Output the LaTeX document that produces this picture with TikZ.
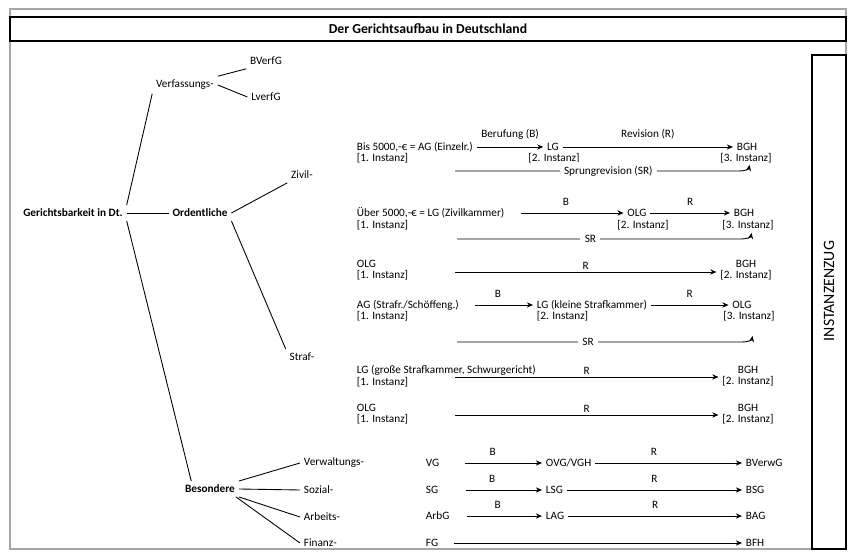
\documentclass[tikz,border=0pt]{standalone}
\usepackage{fontspec}
\setmainfont{Carlito}
\usetikzlibrary{arrows.meta,calc}
\newcommand\gsize{\fontsize{6.4}{6.6}\selectfont}

\begin{document}
\begin{tikzpicture}[x=0.02cm,y=-0.02cm,>={Stealth[length=3.5pt,width=3pt]},line width=0.5pt,
 tr/.style={inner sep=2pt,font=\gsize},
 trb/.style={inner sep=2pt,font=\gsize\bfseries},
 ct/.style={inner sep=2pt,font=\gsize,align=left},
 ar/.style={->,line width=0.5pt},
 al/.style={above=3pt,inner sep=1pt,font=\gsize},
 al2/.style={above=0pt,inner sep=1pt,font=\gsize},
 srl/.style={fill=white,inner sep=2.5pt,font=\gsize}]
\useasboundingbox (0,0) rectangle (850,553);
\draw[gray!70,line width=0.6pt] (10,9) rectangle (846,549);
\draw[line width=0.7pt] (10,17) rectangle (846,41);
\node[font=\fontsize{7.8}{9}\selectfont\bfseries] (title) at (428,29) {Der Gerichtsaufbau in Deutschland};
\draw[line width=0.6pt] (812,55) rectangle (846,549);
\node[rotate=90,font=\fontsize{9}{10}\selectfont] (inst) at (829,291) {INSTANZENZUG};

\node[trb] (ger) at (73,213) {Gerichtsbarkeit in Dt.};
\node[trb] (ord) at (200,213) {Ordentliche};
\node[tr] (verf) at (185,85) {Verfassungs-};
\node[tr] (bverfg) at (266,61) {BVerfG};
\node[tr] (lverfg) at (266,97) {LverfG};
\node[tr] (zivil) at (302,175) {Zivil-};
\node[tr] (straf) at (302,357) {Straf-};
\node[trb] (bes) at (210,489) {Besondere};
\node[tr,anchor=west] (verw) at (300,463) {Verwaltungs-};
\node[tr,anchor=west] (soz) at (300,490) {Sozial-};
\node[tr,anchor=west] (arb) at (300,517) {Arbeits-};
\node[tr,anchor=west] (fin) at (300,543) {Finanz-};
\draw (ger.north east) -- (verf.south west);
\draw (ger) -- (ord);
\draw (ger.south east) -- ($(bes.north west)!.35!(bes.north)$);
\draw (verf.north east) -- (bverfg.south west);
\draw (verf.east) -- (lverfg.west);
\draw (ord.east) -- (zivil.south west);
\draw (ord.south east) -- (straf.north west);
\draw (bes.north east) -- (verw.west);
\draw (bes.east) -- (soz.west);
\draw (bes.south east) -- (arb.west);
\draw ($(bes.south east)!.1!(bes.south)$) -- (fin.west);

\node[ct,anchor=west] (ag1) at (353,147) {Bis 5000,-€ = AG (Einzelr.)};
\node[ct,anchor=west] (ag1i) at (353,158) {[1. Instanz]};
\node[ct] (lg1) at (553,147) {LG};
\node[ct] (lg1i) at (554,158) {[2. Instanz]};
\node[ct] (bgh1) at (747,147) {BGH};
\node[ct] (bgh1i) at (746,158) {[3. Instanz]};
\draw[ar] (ag1) -- node[al]{Berufung (B)} (lg1);
\draw[ar] (lg1) -- node[al]{Revision (R)} (bgh1);
\coordinate (sr1) at (455,171);
\draw[ar] (sr1) -- node[pos=.54,srl]{Sprungrevision (SR)} ($(sr1 -| bgh1i)+(-4pt,0)$)
 to[out=0,in=-100] ($(sr1 -| bgh1i)+(2pt,3.5pt)$);

\node[ct,anchor=west] (lg2) at (353,213) {Über 5000,-€ = LG (Zivilkammer)};
\node[ct,anchor=west] (lg2i) at (353,225) {[1. Instanz]};
\node[ct] (olg2) at (637,213) {OLG};
\node[ct] (olg2i) at (643,225) {[2. Instanz]};
\node[ct] (bgh2) at (744,213) {BGH};
\node[ct] (bgh2i) at (748,225) {[3. Instanz]};
\draw[ar,shorten <=7pt] (lg2) -- node[al]{B} (olg2);
\draw[ar] (olg2) -- node[al]{R} (bgh2);
\coordinate (sr2) at (457,239);
\draw[ar] (sr2) -- node[pos=.47,srl]{SR} ($(sr2 -| bgh2i)+(-4pt,0)$)
 to[out=0,in=-100] ($(sr2 -| bgh2i)+(2pt,3.5pt)$);

\node[ct,anchor=west] (olg3) at (353,270) {OLG\\{}[1. Instanz]};
\node[ct,align=center] (bgh3) at (746,270) {BGH\\{}[2. Instanz]};
\coordinate (r3) at (455,272);
\draw[ar] (r3) -- node[al2]{R} (r3 -| bgh3.west);

\node[ct,anchor=west] (ag4) at (353,305) {AG (Strafr./Schöffeng.)};
\node[ct,anchor=west] (ag4i) at (353,316) {[1. Instanz]};
\node[ct,anchor=west] (lg4) at (533,305) {LG (kleine Strafkammer)};
\node[ct,anchor=west] (lg4i) at (533,316) {[2. Instanz]};
\node[ct] (olg4) at (742,305) {OLG};
\node[ct] (olg4i) at (749,316) {[3. Instanz]};
\draw[ar,shorten <=7pt] (ag4) -- node[al]{B} (lg4);
\draw[ar] (lg4) -- node[al]{R} (olg4);
\coordinate (sr4) at (457,342);
\draw[ar] (sr4) -- node[pos=.46,srl]{SR} ($(sr4 -| olg4i)+(-4pt,0)$)
 to[out=0,in=-100] ($(sr4 -| olg4i)+(2pt,3.5pt)$);

\node[ct,anchor=west] (lg5) at (353,376) {LG (große Strafkammer, Schwurgericht)\\{}[1. Instanz]};
\node[ct,align=center] (bgh5) at (748,376) {BGH\\{}[2. Instanz]};
\coordinate (r5) at (455,377);
\draw[ar] (r5) -- node[al2]{R} (r5 -| bgh5.west);

\node[ct,anchor=west] (olg6) at (353,414) {OLG\\{}[1. Instanz]};
\node[ct,align=center] (bgh6) at (748,414) {BGH\\{}[2. Instanz]};
\coordinate (r6) at (455,415);
\draw[ar] (r6) -- node[al2]{R} (r6 -| bgh6.west);

\node[ct,anchor=west] (vg) at (422,463) {VG};
\node[ct,anchor=west] (ovg) at (542,463) {OVG/VGH};
\node[ct,anchor=west] (bverwg) at (742,463) {BVerwG};
\node[ct,anchor=west] (sg) at (422,490) {SG};
\node[ct,anchor=west] (lsg) at (542,490) {LSG};
\node[ct,anchor=west] (bsg) at (742,490) {BSG};
\node[ct,anchor=west] (arbg) at (422,516) {ArbG};
\node[ct,anchor=west] (lag) at (542,516) {LAG};
\node[ct,anchor=west] (bag) at (742,516) {BAG};
\node[ct,anchor=west] (fg) at (422,543) {FG};
\node[ct,anchor=west] (bfh) at (742,543) {BFH};
\draw[ar,shorten <=12.5pt] (vg) -- node[al]{B} (ovg);
\draw[ar] (ovg) -- node[pos=.4,al]{R} (bverwg);
\draw[ar,shorten <=13.5pt] (sg) -- node[al]{B} (lsg);
\draw[ar] (lsg) -- node[al]{R} (bsg);
\draw[ar,shorten <=8pt] (arbg) -- node[al]{B} (lag);
\draw[ar] (lag) -- node[al]{R} (bag);
\draw[ar,shorten <=7pt] (fg) -- (bfh);
\end{tikzpicture}
\end{document}
